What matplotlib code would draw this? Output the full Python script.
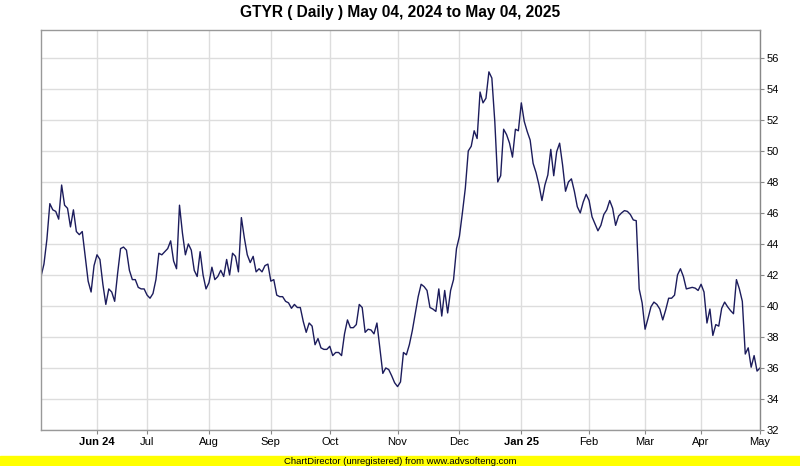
import numpy as np
import matplotlib
matplotlib.use('Agg')
import matplotlib.pyplot as plt
from matplotlib.patches import Rectangle

# daily closes, one list per month
may24 = [41.9, 42.7, 44.3, 46.6, 46.2, 46.1, 45.6, 47.8, 46.5, 46.3,
         45.1, 46.2, 44.8, 44.6, 44.8, 43.2, 41.6, 40.9, 42.6]
jun24 = [43.3, 43.0, 41.4, 40.1, 41.1, 40.9, 40.3, 42.1, 43.7, 43.8,
         43.6, 42.3, 41.7, 41.7, 41.2, 41.1, 41.1]
jul24 = [40.7, 40.5, 40.8, 41.7, 43.4, 43.3, 43.5, 43.7, 44.2, 42.9,
         42.4, 46.5, 44.7, 43.3, 44.0, 43.6, 42.3, 41.9, 43.5, 42.0, 41.1]
aug24 = [41.5, 42.5, 41.7, 41.9, 42.3, 41.9, 43.0, 42.0, 43.4, 43.2,
         42.2, 45.7, 44.4, 43.3, 42.8, 43.2, 42.2, 42.4, 42.2, 42.6, 42.7]
sep24 = [41.6, 41.7, 40.7, 40.6, 40.6, 40.3, 40.2, 39.85, 40.1, 39.9,
         39.9, 39.0, 38.3, 38.9, 38.7, 37.5, 37.9, 37.3, 37.2, 37.2]
oct24 = [37.4, 36.8, 37.0, 37.0, 36.8, 38.2, 39.1, 38.6, 38.6, 38.8,
         40.1, 39.9, 38.3, 38.5, 38.45, 38.2, 38.9, 37.3, 35.65, 36.0,
         35.9, 35.5, 35.05]
nov24 = [34.8, 35.1, 37.0, 36.85, 37.5, 38.4, 39.5, 40.6, 41.4, 41.25,
         41.0, 39.9, 39.8, 39.65, 41.1, 39.35, 41.0, 39.55, 41.0, 41.7, 43.7]
dec24 = [44.5, 46.0, 47.6, 50.0, 50.3, 51.3, 50.8, 53.8, 53.1, 53.4,
         55.1, 54.7, 51.9, 48.0, 48.4, 51.4, 51.05, 50.5, 49.6, 51.4, 51.3]
jan25 = [53.1, 51.9, 51.25, 50.7, 49.2, 48.6, 47.8, 46.8, 47.8, 48.45,
         50.1, 48.4, 49.95, 50.5, 49.1, 47.4, 48.0, 48.2, 47.4, 46.4,
         46.0, 46.7, 47.2]
feb25 = [46.8, 45.75, 45.3, 44.85, 45.2, 45.9, 46.2, 46.8, 46.3, 45.2,
         45.8, 46.0, 46.15, 46.1, 45.9, 45.55, 45.5, 41.1, 40.2]
mar25 = [38.5, 39.2, 39.95, 40.25, 40.1, 39.8, 39.1, 39.75, 40.5, 40.5,
         40.7, 42.0, 42.4, 41.9, 41.1, 41.15, 41.2, 41.15, 41.0]
apr25 = [41.4, 40.9, 38.9, 39.8, 38.1, 38.8, 38.7, 39.85, 40.25, 39.95,
         39.7, 39.5, 41.7, 41.1, 40.3, 36.9, 37.3, 36.05, 36.8, 35.8]
may25 = [36.0]

months = [may24, jun24, jul24, aug24, sep24, oct24, nov24, dec24,
          jan25, feb25, mar25, apr25, may25]
month_labels = ['Jun 24', 'Jul', 'Aug', 'Sep', 'Oct', 'Nov', 'Dec',
                'Jan 25', 'Feb', 'Mar', 'Apr', 'May']
y_ticks = list(range(32, 57, 2))

closes = np.concatenate(months)
x = np.arange(len(closes))
starts = np.cumsum([0] + [len(m) for m in months])[:-1]

plt.rcParams['font.family'] = ['Liberation Sans', 'DejaVu Sans']

W, H = 800, 466
fig = plt.figure(figsize=(W / 100, H / 100), dpi=100)
ax = fig.add_axes([41 / W, 1 - 430 / H, (760 - 41) / W, (430 - 30) / H])

ax.plot(x, closes, color='#1c1c5c', lw=1.0)

ax.set_xlim(0, len(closes) - 1)
ax.set_ylim(32, 57.8)

ax.set_xticks(starts[1:])
ax.set_xticklabels(month_labels, fontsize=8)
for lab in ax.get_xticklabels():
    if lab.get_text() in ('Jun 24', 'Jan 25'):
        lab.set_fontweight('bold')

ax.yaxis.tick_right()
ax.set_yticks(y_ticks)
ax.set_yticklabels([str(v) for v in y_ticks], fontsize=8)

ax.tick_params(axis='both', length=3, width=0.8, color='#888888', pad=2)
ax.grid(True, color='#dddddd', lw=1.0)
ax.set_axisbelow(True)
for side in ['top', 'bottom', 'left', 'right']:
    ax.spines[side].set_color('#999999')
    ax.spines[side].set_linewidth(1.0)
ax.spines['right'].set_color('#888888')

fig.text(0.5, 1 - 13 / H, 'GTYR ( Daily ) May 04, 2024 to May 04, 2025',
         ha='center', va='center', fontsize=11.2, fontweight='bold')

# yellow banner at the bottom
fig.patches.append(Rectangle((0, 0), 1, 10 / H, transform=fig.transFigure,
                             color='#ffff00', zorder=0))
fig.text(0.5, 5 / H, 'ChartDirector (unregistered) from www.advsofteng.com',
         ha='center', va='center', fontsize=6.8)

fig.savefig('out.png', dpi=100)
